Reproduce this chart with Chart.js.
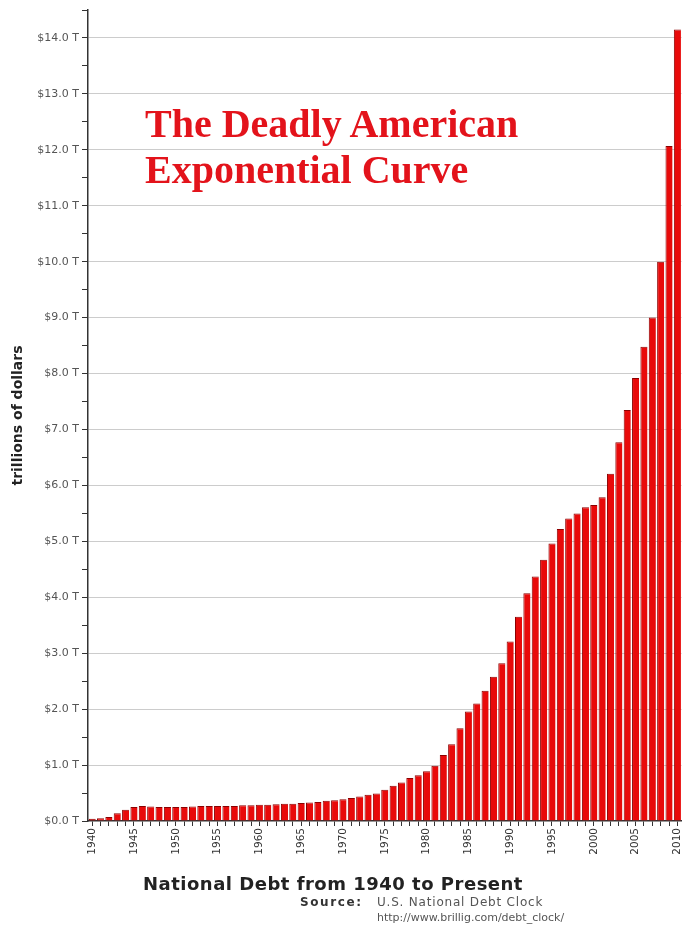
<!DOCTYPE html>
<html>
<head>
<meta charset="utf-8">
<title>National Debt from 1940 to Present</title>
<script src="https://cdn.jsdelivr.net/npm/chart.js@4"></script>
<style>
    html, body { margin: 0; padding: 0; background: #fff; }
    #wrap { position: relative; width: 684px; height: 947px; overflow: hidden; }
    #titolo {
        position: absolute; left: 145px; top: 101px;
        font: bold 40px 'Liberation Serif', 'Times New Roman', serif;
        line-height: 46px; color: #e3131b; white-space: nowrap;
    }
    #asseX {
        position: absolute; left: 143px; top: 873px;
        font: bold 18px 'DejaVu Sans', Verdana, sans-serif;
        letter-spacing: 0.5px; color: #222; white-space: nowrap;
    }
    #fonte {
        position: absolute; left: 300px; top: 895px;
        font: 12px 'DejaVu Sans', Verdana, sans-serif; color: #555;
        letter-spacing: 0.8px; line-height: 15px; white-space: nowrap;
    }
    #fonte b { color: #333; letter-spacing: 1.6px; display: inline-block; width: 77px; }
    #fonte .riga2 { padding-left: 77px; font-size: 11px; letter-spacing: 0; }
</style>
</head>
<body>
<div id="wrap">
    <canvas id="chartDebito" width="692" height="947"></canvas>
    <div id="titolo">The Deadly American<br>Exponential Curve</div>
    <div id="asseX">National Debt from 1940 to Present</div>
    <div id="fonte"><b>Source:</b>U.S. National Debt Clock<div class="riga2">http://www.brillig.com/debt_clock/</div></div>
</div>

<script>
// anni 1940 - 2010
const anni = [
    1940, 1941, 1942, 1943, 1944, 1945, 1946, 1947, 1948, 1949,
    1950, 1951, 1952, 1953, 1954, 1955, 1956, 1957, 1958, 1959,
    1960, 1961, 1962, 1963, 1964, 1965, 1966, 1967, 1968, 1969,
    1970, 1971, 1972, 1973, 1974, 1975, 1976, 1977, 1978, 1979,
    1980, 1981, 1982, 1983, 1984, 1985, 1986, 1987, 1988, 1989,
    1990, 1991, 1992, 1993, 1994, 1995, 1996, 1997, 1998, 1999,
    2000, 2001, 2002, 2003, 2004, 2005, 2006, 2007, 2008, 2009,
    2010
]

// debito in trilioni di dollari
const debito = [
    0.04, 0.05, 0.07, 0.14, 0.20, 0.25, 0.27, 0.26, 0.25, 0.25,
    0.25, 0.25, 0.26, 0.27, 0.27, 0.27, 0.27, 0.27, 0.28, 0.28,
    0.29, 0.29, 0.30, 0.31, 0.31, 0.32, 0.33, 0.34, 0.36, 0.37,
    0.39, 0.41, 0.44, 0.47, 0.49, 0.56, 0.63, 0.69, 0.77, 0.82,
    0.89, 0.99, 1.18, 1.37, 1.66, 1.96, 2.10, 2.33, 2.58, 2.82,
    3.21, 3.65, 4.07, 4.37, 4.67, 4.96, 5.22, 5.41, 5.50, 5.61,
    5.65, 5.79, 6.21, 6.77, 7.35, 7.92, 8.48, 9.00, 10.00, 12.07,
    14.15
]

const titoloAsseY = 'trillions of dollars'

new Chart(document.getElementById('chartDebito'), {
    type: 'bar',
    data: {
        labels: anni,
        datasets: [{
            label: 'National Debt',
            data: debito,
            backgroundColor: '#e80a0a',
            borderColor: '#8c0000',
            borderWidth: { left: 1, top: 1, right: 0, bottom: 0 },
            barPercentage: 0.85,
            categoryPercentage: 1.0
        }]
    },
    options: {
        responsive: false,
        animation: false,
        layout: { padding: { top: 10, right: 0, bottom: 86, left: 0 } },
        plugins: {
            legend: { display: false },
            tooltip: { enabled: false }
        },
        scales: {
            x: {
                afterFit(scale) { scale.height = 40 },
                border: { color: '#333', width: 1.5 },
                grid: {
                    drawOnChartArea: false,
                    tickColor: '#333',
                    tickLength: 5,
                    offset: false
                },
                ticks: {
                    autoSkip: false,
                    minRotation: 90,
                    maxRotation: 90,
                    padding: 2,
                    color: '#333',
                    font: { family: 'DejaVu Sans', size: 10.5 },
                    callback(value, index) {
                        return anni[index] % 5 === 0 ? String(anni[index]) : ''
                    }
                }
            },
            y: {
                min: 0,
                max: 14.5,
                afterFit(scale) { scale.width = 88 },
                border: { color: '#333', width: 1.5 },
                grid: {
                    color: ctx => (ctx.tick && ctx.tick.value % 1 === 0 && ctx.tick.value > 0) ? '#cccccc' : 'rgba(0,0,0,0)',
                    tickColor: '#333',
                    tickLength: 6,
                    lineWidth: 1
                },
                ticks: {
                    stepSize: 0.5,
                    autoSkip: false,
                    padding: 3,
                    color: '#555',
                    font: { family: 'DejaVu Sans', size: 11 },
                    callback(value) {
                        return value % 1 === 0 ? '$' + value.toFixed(1) + ' T' : ''
                    }
                },
                title: {
                    display: true,
                    text: titoloAsseY,
                    color: '#222',
                    font: { family: 'DejaVu Sans', size: 14, weight: 'bold' },
                    padding: { top: 10, bottom: 0 }
                }
            }
        }
    }
})
</script>
</body>
</html>
